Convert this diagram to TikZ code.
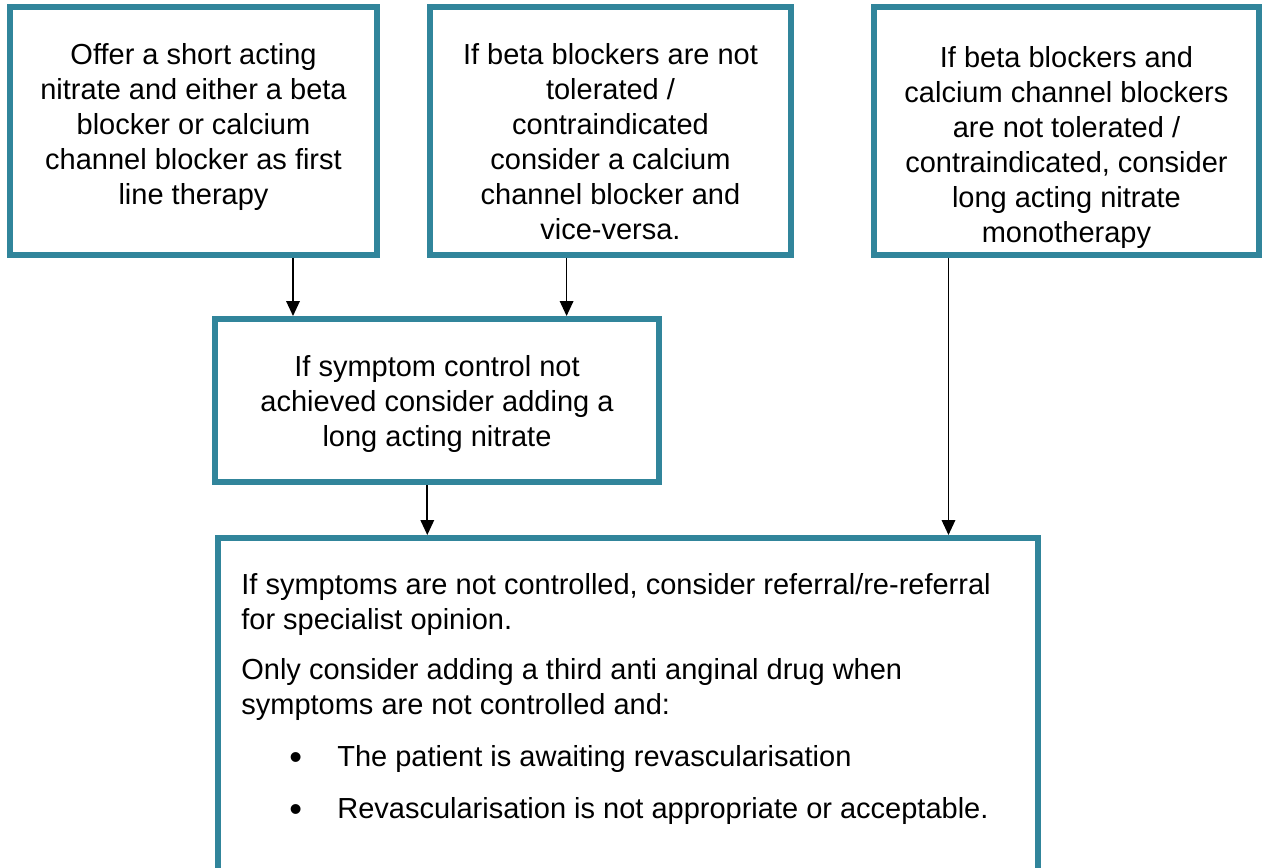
\documentclass[tikz,border=0pt]{standalone}
\usepackage{fontspec}
\setmainfont{Liberation Sans}
\usetikzlibrary{arrows.meta,positioning,calc}
\definecolor{boxteal}{RGB}{49,133,155}
\newcommand{\bigdot}{\raisebox{-0.6mm}{\scalebox{1.25}{•}}}

\begin{document}
\begin{tikzpicture}[
  font=\fontsize{16.5pt}{19.9pt}\selectfont,
  box/.style ={draw=boxteal, line width=3.4pt, fill=white},
  txt/.style ={inner sep=0pt, align=center},
  >={Triangle[length=3mm, width=2.7mm]}
]
\useasboundingbox (0,0) rectangle (25.24,-17.34);
\clip (0,0) rectangle (25.24,-17.34);

% top row
\node[box, minimum width=7.34cm, minimum height=4.96cm] (first) at (3.87,-2.62) {};
\node[box, minimum width=7.22cm, minimum height=4.96cm] (swap)  [right=0.94cm of first] {};
\node[box, minimum width=7.70cm, minimum height=4.96cm] (mono)  [right=1.54cm of swap] {};

% second and last step
\node[box, minimum width=8.88cm, minimum height=3.26cm] (addnit) at (8.74,-8.01) {};
\node[box, minimum width=16.40cm, minimum height=7.24cm] (refer) at (12.56,-14.38) {};

\node[txt] (firsttxt) [below=0.78cm of first.north]
  {Offer a short acting\\nitrate and either a beta\\blocker or calcium\\channel blocker as first\\line therapy};
\node[txt] (swaptxt) [below=0.78cm of swap.north]
  {If beta blockers are not\\tolerated /\\contraindicated\\consider a calcium\\channel blocker and\\vice-versa.};
\node[txt] (monotxt) [below=0.84cm of mono.north]
  {If beta blockers and\\calcium channel blockers\\are not tolerated /\\contraindicated, consider\\long acting nitrate\\monotherapy};
\node[txt] (addnittxt) [below=0.78cm of addnit.north]
  {If symptom control not\\achieved consider adding a\\long acting nitrate};
\node[txt, align=left, anchor=north west] (refertxt) [below right=0.76cm and 0.52cm of refer.north west]
  {If symptoms are not controlled, consider referral/re-referral\\
   for specialist opinion.\\[0.3cm]
   Only consider adding a third anti anginal drug when\\
   symptoms are not controlled and:\\[0.34cm]
   \hspace*{9.6mm}\makebox[9.6mm][l]{\bigdot}The patient is awaiting revascularisation\\[0.34cm]
   \hspace*{9.6mm}\makebox[9.6mm][l]{\bigdot}Revascularisation is not appropriate or acceptable.};

% entry points
\coordinate (in1) at ($(addnit.north west)!0.18!(addnit.north east)$);
\coordinate (in2) at ($(addnit.north west)!0.788!(addnit.north east)$);
\coordinate (in3) at ($(refer.north west)!0.888!(refer.north east)$);
\coordinate (in4) at ($(refer.north west)!0.257!(refer.north east)$);

\draw[->, line width=1pt] (in1 |- first.south) -- (in1);
\draw[->, line width=1pt] (in2 |- swap.south) -- (in2);
\draw[->, line width=1pt] (in3 |- mono.south) -- (in3);
\draw[->, line width=1pt] (in4 |- addnit.south) -- (in4);
\end{tikzpicture}
\end{document}
